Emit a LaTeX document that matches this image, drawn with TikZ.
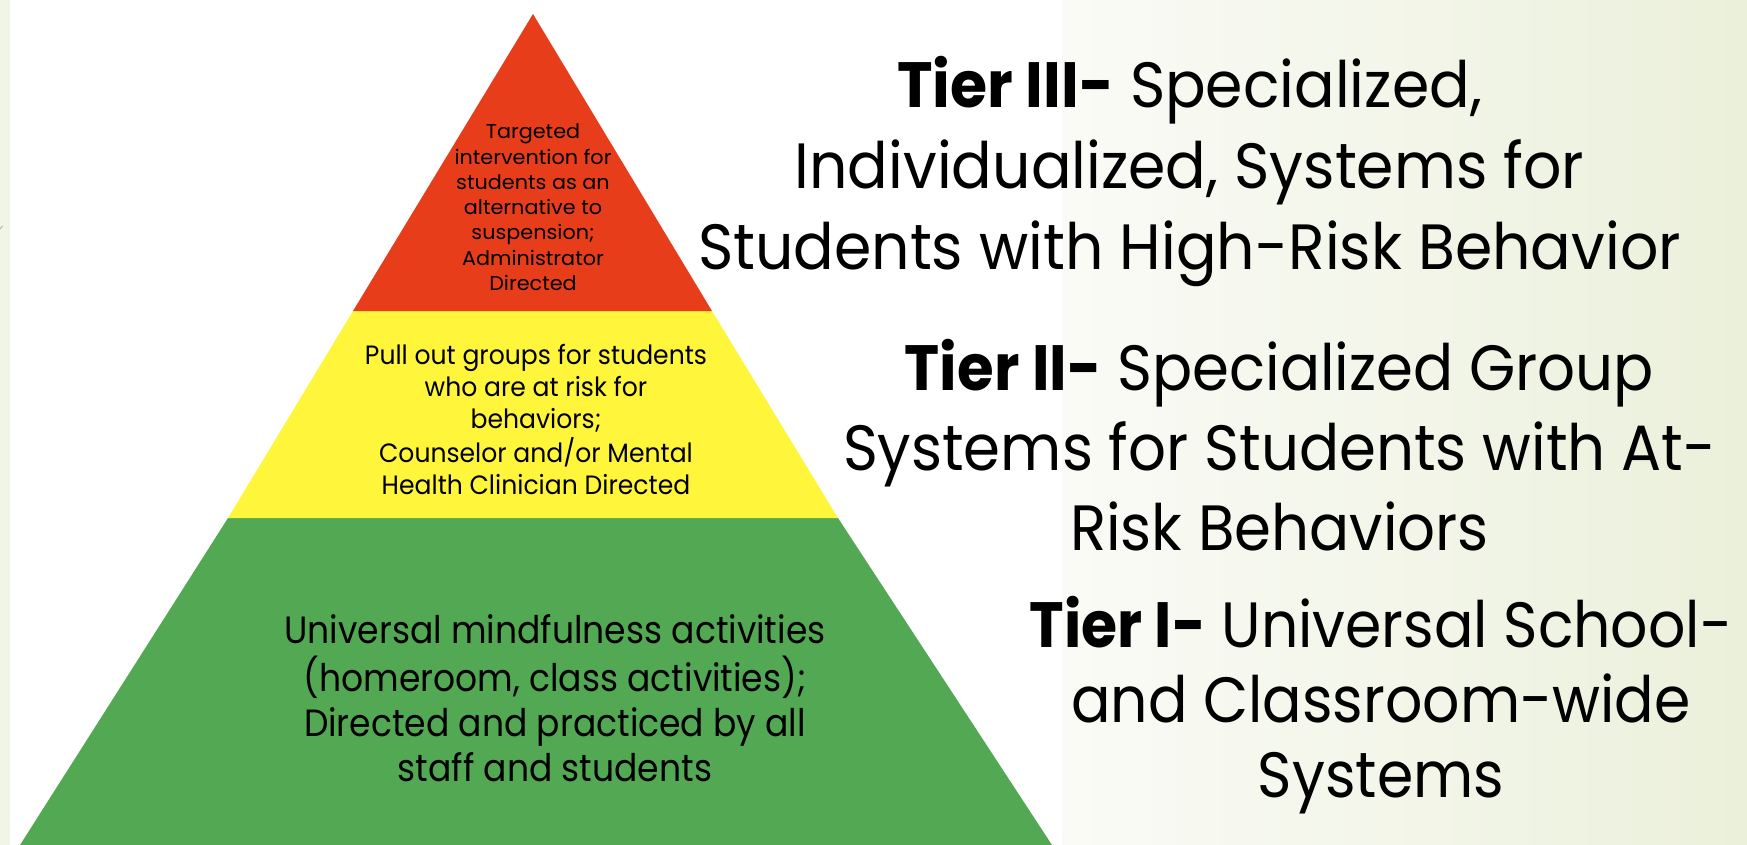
\documentclass[tikz,border=0pt]{standalone}
\usepackage{fontspec}
\setmainfont{Poppins}
\usepackage{graphicx}

% centred block of lines, baseline on the first line
\newcommand{\tierlines}[1]{\begin{tabular}[t]{@{}c@{}}#1\end{tabular}}
% stretch a block horizontally to a given width, keeping its height
\newcommand{\fitwidth}[2]{\resizebox{#1}{\height}{#2}}

\definecolor{tierred}{HTML}{E83D1B}
\definecolor{tieryellow}{HTML}{FFF63B}
\definecolor{tiergreen}{HTML}{53A853}
\definecolor{sageleft}{HTML}{F1F5E6}
\definecolor{sagelight}{HTML}{FAFBF6}
\definecolor{sagedark}{HTML}{EBF0DB}

\begin{document}
\begin{tikzpicture}[x=1pt, y=-1pt,
  label/.style={anchor=base, inner sep=0pt, text=black}]
\useasboundingbox (0,0) rectangle (1747,845);

% slide background
\fill[sageleft] (0,0) rectangle (10,845);
\fill[left color=sagelight, right color=sagedark] (1062,0) rectangle (1747,845);
\fill[white] (10,0) rectangle (1062,845);
\draw[gray!70, line width=0.8pt] (0,229) -- (2.5,226);

% pyramid outline points
\coordinate (apex) at (533,14);
\coordinate (rl) at (353,311);
\coordinate (rr) at (712,311);
\coordinate (yl) at (228,518);
\coordinate (yr) at (838,518);
\coordinate (gl) at (20,845);
\coordinate (gr) at (1052,845);

\fill[tiergreen] (yl) -- (yr) -- (gr) -- (gl) -- cycle;
\fill[tieryellow] (rl) -- (rr) -- (yr) -- (yl) -- cycle;
\fill[tierred] (apex) -- (rr) -- (rl) -- cycle;

% texts inside the pyramid
\node[label] (redtext) at (533,139) {\fontsize{20}{25.2}\selectfont
  \fitwidth{157pt}{\tierlines{Targeted\\ intervention for\\ students as an\\ alternative to\\ suspension;\\ Administrator\\ Directed}}};

\node[label] (yellowtext) at (536,364) {\fontsize{26.5}{32}\selectfont
  \fitwidth{342pt}{\tierlines{Pull out groups for students\\ who are at risk for\\ behaviors;\\ Counselor and/or Mental\\ Health Clinician Directed}}};

\node[label] (greentext) at (555,643) {\fontsize{38}{44.7}\selectfont
  \fitwidth{541pt}{\tierlines{Universal mindfulness activities\\ (homeroom, class activities);\\ Directed and practiced by all\\ staff and students}}};

% tier descriptions
\node[label] (tierthree) at (1189.5,108) {\fontsize{64}{81}\selectfont
  \fitwidth{983pt}{\tierlines{\textbf{Tier III-} Specialized,\\ Individualized, Systems for\\ Students with High-Risk Behavior}}};

\node[label] (tiertwo) at (1279.5,390) {\fontsize{64}{80}\selectfont
  \fitwidth{873pt}{\tierlines{\textbf{Tier II-} Specialized Group\\ Systems for Students with At-\\ Risk Behaviors}}};

\node[label] (tierone) at (1381,647) {\fontsize{64}{75}\selectfont
  \fitwidth{703pt}{\tierlines{\textbf{Tier I-} Universal School-\\ and Classroom-wide\\ Systems}}};
\end{tikzpicture}
\end{document}
